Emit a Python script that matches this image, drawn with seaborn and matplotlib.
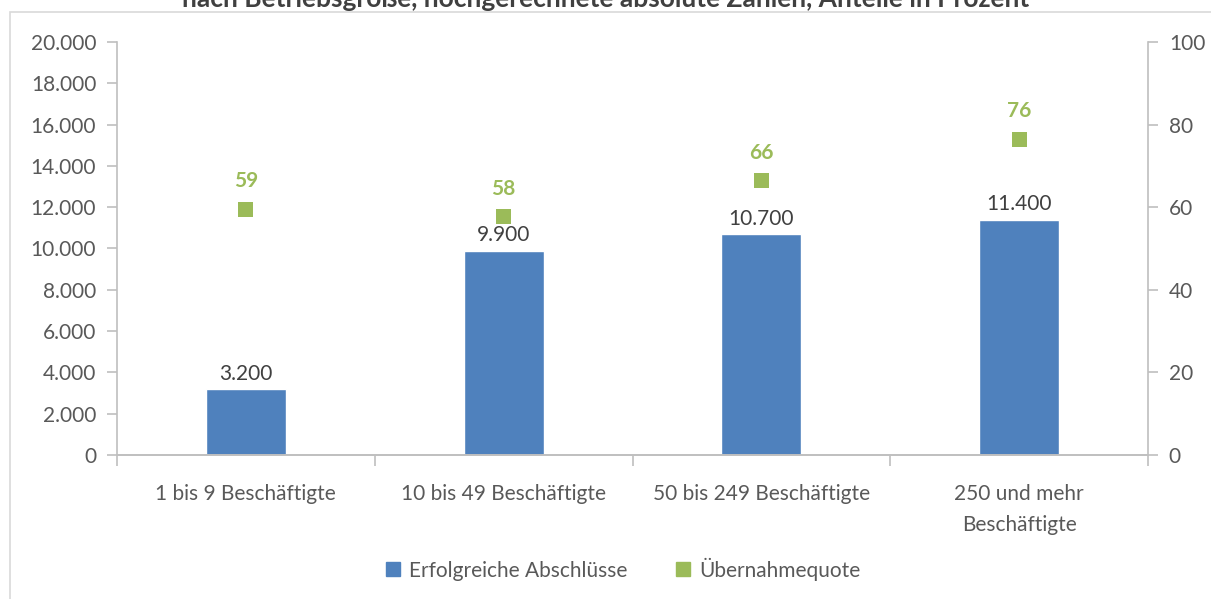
import pandas as pd
import seaborn as sns
import matplotlib.pyplot as plt
from matplotlib.lines import Line2D
from matplotlib.patches import Rectangle
from matplotlib.ticker import FuncFormatter

# data
categories = ["1 bis 9 Beschäftigte", "10 bis 49 Beschäftigte",
              "50 bis 249 Beschäftigte", "250 und mehr\nBeschäftigte"]
abschluesse = [3200, 9900, 10700, 11400]
quote = [59.4, 57.7, 66.4, 76.4]

TITLE = "nach Betriebsgröße, hochgerechnete absolute Zahlen, Anteile in Prozent"
BLUE = "#4F81BD"
GREEN = "#9BBB59"
GRAY = "#BFBFBF"
TEXT = "#595959"
FS = 15


def thousands(v, pos):
    return f"{int(v):,}".replace(",", ".")


def run():
    sns.set_style("white")
    plt.rcParams["font.family"] = ["Lato", "DejaVu Sans"]

    df = pd.DataFrame({"kategorie": categories,
                       "abschluesse": abschluesse,
                       "quote": quote})

    fig = plt.figure(figsize=(12.11, 5.99), dpi=100)
    ax = fig.add_axes([0.0966, 0.2404, 0.8514, 0.6895])

    sns.barplot(data=df, x="kategorie", y="abschluesse", color=BLUE,
                width=0.31, saturation=1, ax=ax)
    ax.set_xlim(-0.5, 3.5)
    ax.set_ylim(0, 20000)
    ax.set_yticks(range(0, 20001, 2000))
    ax.yaxis.set_major_formatter(FuncFormatter(thousands))
    ax.set_xlabel("")
    ax.set_ylabel("")

    for i, v in enumerate(df["abschluesse"]):
        ax.text(i, v + 250, thousands(v, None), ha="center", va="bottom",
                fontsize=FS, color="#404040")

    ax2 = ax.twinx()
    sns.scatterplot(data=df, x="kategorie", y="quote", marker="s", s=120,
                    color=GREEN, edgecolor="none", ax=ax2, zorder=5)
    ax2.set_ylim(0, 100)
    ax2.set_yticks(range(0, 101, 20))
    ax2.set_ylabel("")
    for i, v in enumerate(df["quote"]):
        ax2.text(i, v + 4.4, f"{round(v)}", ha="center", va="bottom",
                 fontsize=FS, fontweight="bold", color=GREEN)

    for a in (ax, ax2):
        for s in a.spines.values():
            s.set_color(GRAY)
            s.set_linewidth(1.2)
        a.spines["top"].set_visible(False)
        a.tick_params(colors=GRAY, labelcolor=TEXT, labelsize=FS,
                      length=7, width=1.2)
    ax.spines["right"].set_visible(False)
    ax2.spines["left"].set_visible(False)
    ax.tick_params(axis="y", left=True, pad=8)
    ax2.tick_params(axis="y", right=True, pad=8)

    # category boundary ticks on the x axis
    ax.set_xticks([-0.5, 0.5, 1.5, 2.5, 3.5], minor=True)
    ax.tick_params(axis="x", which="major", length=0, pad=21)
    ax.tick_params(axis="x", which="minor", length=8, width=1.2,
                   color=GRAY, bottom=True)
    for lbl in ax.get_xticklabels():
        lbl.set_linespacing(1.65)
        lbl.set_verticalalignment("top")

    handles = [
        Line2D([], [], marker="s", ls="", color=BLUE, markersize=10),
        Line2D([], [], marker="s", ls="", color=GREEN, markersize=10),
    ]
    fig.legend(handles, ["Erfolgreiche Abschlüsse", "Übernahmequote"],
               loc="center", bbox_to_anchor=(0.513, 0.05), ncol=2,
               frameon=False, fontsize=FS, labelcolor=TEXT,
               handletextpad=0.25, columnspacing=2.2, handlelength=1)

    fig.patches.append(Rectangle((10 / 1211, -0.05), 1.0, 1.05 - 12 / 599,
                                 transform=fig.transFigure, fill=False,
                                 edgecolor="#D9D9D9", linewidth=1.2))
    fig.text(0.5, 1 - 7 / 599, TITLE, ha="center", va="baseline",
             fontsize=19, fontweight="bold", color="#404040")

    fig.savefig("out.png", dpi=100)


if __name__ == "__main__":
    run()
